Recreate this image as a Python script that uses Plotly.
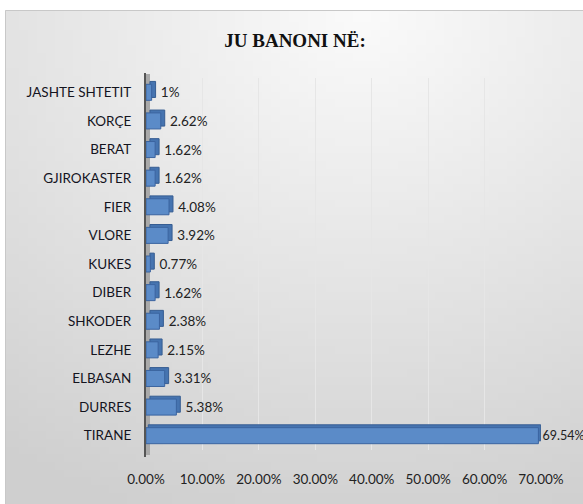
import base64, struct, zlib
import plotly.graph_objects as go

# ---- data (top-to-bottom order as shown) ----
categories = ["JASHTE SHTETIT", "KORÇE", "BERAT", "GJIROKASTER", "FIER", "VLORE",
              "KUKES", "DIBER", "SHKODER", "LEZHE", "ELBASAN", "DURRES", "TIRANE"]
values = [0.01, 0.0262, 0.0162, 0.0162, 0.0408, 0.0392,
          0.0077, 0.0162, 0.0238, 0.0215, 0.0331, 0.0538, 0.6954]
value_labels = ["1%", "2.62%", "1.62%", "1.62%", "4.08%", "3.92%",
                "0.77%", "1.62%", "2.38%", "2.15%", "3.31%", "5.38%", "69.54%"]
tick_vals = [0, 0.1, 0.2, 0.3, 0.4, 0.5, 0.6, 0.7]
tick_text = ["0.00%", "10.00%", "20.00%", "30.00%", "40.00%", "50.00%", "60.00%", "70.00%"]


# ---- background gradient image (generated PNG) ----
def _chunk(tag, data):
    return struct.pack(">I", len(data)) + tag + data + struct.pack(">I", zlib.crc32(tag + data) & 0xffffffff)


def gradient_png(w, h):
    rows = []
    for j in range(h):
        t = j / (h - 1)
        row = bytearray([0])
        for i in range(w):
            s = i / (w - 1)
            d = ((s - 0.62) ** 2 * 0.9 + (t - 0.0) ** 2) ** 0.5
            v = int(max(207, min(250, 251 - 40 * d)))
            row += bytes([v, v, v])
        rows.append(bytes(row))
    raw = b"".join(rows)
    png = (b"\x89PNG\r\n\x1a\n" + _chunk(b"IHDR", struct.pack(">IIBBBBB", w, h, 8, 2, 0, 0, 0))
           + _chunk(b"IDAT", zlib.compress(raw)) + _chunk(b"IEND", b""))
    return "data:image/png;base64," + base64.b64encode(png).decode()


W, H = 583, 504
L, R, T, B = 146, 42, 78, 54
pw, ph = W - L - R, H - T - B


def px_x(px):
    return (px - L) / pw


def px_y(py):
    return (H - B - py) / ph


FONT = "Lato, Open Sans, sans-serif"
n = len(values)
label_sizes = [13.5] * (n - 1) + [12.5]
BAR_W = 0.56
DEPTH_X = 0.007      # extrusion depth along value axis (fraction units)
DEPTH_Y = 0.10       # extrusion depth along category axis
depth_base = [DEPTH_X] * (n - 1) + [0.004]
label_base = [DEPTH_X + 0.004] * (n - 1) + [0.002]

fig = go.Figure()
# 3D extrusion (back face), drawn first
fig.add_trace(go.Bar(
    y=categories, x=values, base=depth_base, orientation="h",
    width=BAR_W, offset=-BAR_W / 2 + DEPTH_Y,
    marker=dict(color="#4674b0", line=dict(color="#365d92", width=1)),
    hoverinfo="skip",
))
# front face
fig.add_trace(go.Bar(
    y=categories, x=values, orientation="h",
    width=BAR_W, offset=-BAR_W / 2,
    marker=dict(color="#5b8bc8", line=dict(color="#3b64a0", width=1)),
))
# transparent carrier for value labels, placed past the extrusion
fig.add_trace(go.Bar(
    y=categories, x=values, base=label_base, orientation="h",
    width=BAR_W, offset=-BAR_W / 2,
    marker=dict(color="rgba(0,0,0,0)", line=dict(width=0)),
    text=value_labels, textposition="outside", cliponaxis=False, constraintext="none",
    textfont=dict(family=FONT, size=label_sizes, color="#222222"),
    hoverinfo="skip",
))

fig.update_layout(
    width=W, height=H,
    margin=dict(l=L, r=R, t=T, b=B),
    paper_bgcolor="white", plot_bgcolor="rgba(0,0,0,0)",
    showlegend=False, barmode="overlay",
    title=dict(text="<b>JU BANONI NË:</b>", x=0.506, xref="container", xanchor="center",
               y=1 - 40 / H, yref="container", yanchor="middle",
               font=dict(family="Liberation Serif, DejaVu Serif, serif", size=19, color="#111111")),
    xaxis=dict(range=[0, 0.70], tickvals=tick_vals, ticktext=tick_text,
               showgrid=True, gridcolor="#e6e6e6", gridwidth=1, zeroline=False,
               ticks="outside", ticklen=17, tickcolor="rgba(0,0,0,0)",
               tickfont=dict(family=FONT, size=13.5, color="#222222"),
               showline=False),
    yaxis=dict(categoryorder="array", categoryarray=categories[::-1], autorange=True,
               ticks="outside", ticklen=11, tickcolor="rgba(0,0,0,0)",
               tickfont=dict(family=FONT, size=13.5, color="#14141e"),
               showgrid=False, zeroline=False, showline=False),
    images=[dict(source=gradient_png(64, 64), xref="paper", yref="paper",
                 x=px_x(5), y=px_y(10), sizex=px_x(583) - px_x(5), sizey=px_y(10) - px_y(504),
                 xanchor="left", yanchor="top", sizing="stretch", layer="below")],
    shapes=[
        dict(type="rect", xref="paper", yref="paper", x0=px_x(5.5), x1=px_x(590), y0=px_y(10.5), y1=px_y(510),
             line=dict(color="#c8c8c8", width=1), fillcolor="rgba(0,0,0,0)", layer="below"),
        dict(type="rect", xref="paper", yref="paper", x0=px_x(145), x1=px_x(150), y0=px_y(455), y1=px_y(74),
             line=dict(width=0), fillcolor="#a9a9a9", layer="below"),
        dict(type="line", xref="paper", yref="paper", x0=px_x(145), x1=px_x(145), y0=px_y(457), y1=px_y(73),
             line=dict(color="#555555", width=2), layer="above"),
    ],
)

fig.write_html("out.html", config={"displayModeBar": False},
               post_script="document.body.style.margin='0';document.body.style.padding='0';")
